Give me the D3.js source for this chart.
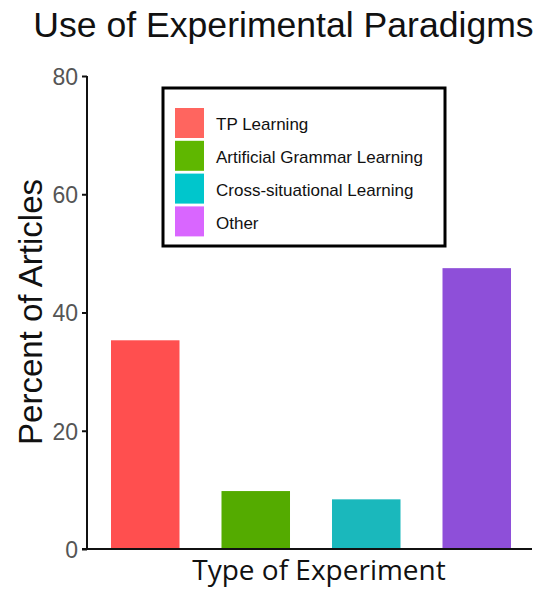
<!DOCTYPE html>
<html lang="en">
<head>
<meta charset="utf-8">
<title>Use of Experimental Paradigms</title>
<script type="text/javascript" src="https://d3js.org/d3.v7.min.js"></script>
<style type="text/css">
    body { margin: 0; background: white; }
    svg { display: block; }
</style>
</head>
<body>
<script type="text/javascript">
// chart values
var categories = ["TP Learning", "Artificial Grammar Learning", "Cross-situational Learning", "Other"];
var percents = [35.3, 9.8, 8.4, 47.5];
var barColors = ["#ff4f4f", "#54ab00", "#1ab8bc", "#8e4fd9"];
var legendColors = ["#ff655f", "#5fb700", "#00c6cc", "#d966ff"];
var yTicks = [0, 20, 40, 60, 80];

var W = 544, H = 591;

var svg = d3.select("body").append("svg")
    .attr("width", W)
    .attr("height", H);

var x = d3.scaleBand()
    .domain(categories)
    .range([90, 532])
    .paddingInner(0.38)
    .paddingOuter(0.19);

var y = d3.scaleLinear()
    .domain([0, 80])
    .range([549, 76]);

// bars
svg.selectAll(".bar")
    .data(categories)
    .enter().append("rect")
    .attr("class", "bar")
    .attr("x", function(d) { return x(d); })
    .attr("width", x.bandwidth())
    .attr("y", function(d, i) { return y(percents[i]); })
    .attr("height", function(d, i) { return y(0) - y(percents[i]); })
    .attr("fill", function(d, i) { return barColors[i]; });

// y axis
var yAxis = svg.append("g")
    .attr("transform", "translate(87,0)")
    .call(d3.axisLeft(y).tickValues(yTicks).tickSize(5).tickPadding(4));
yAxis.select(".domain").attr("stroke", "#111").attr("stroke-width", 2).attr("d", "M0," + y(80) + "V" + y(0));
yAxis.selectAll(".tick line").attr("stroke", "#111").attr("stroke-width", 2);
yAxis.selectAll(".tick text")
    .attr("fill", "#555")
    .attr("font-family", "Liberation Sans, Arial, sans-serif")
    .attr("font-size", "23px")
    .attr("dy", "0.36em");

// x axis line
svg.append("line")
    .attr("x1", 82).attr("x2", 532)
    .attr("y1", y(0)).attr("y2", y(0))
    .attr("stroke", "#111")
    .attr("stroke-width", 2);

// title
svg.append("text")
    .attr("x", 283.5)
    .attr("y", 37)
    .attr("text-anchor", "middle")
    .attr("font-family", "Liberation Sans, Arial, sans-serif")
    .attr("font-size", "35.6px")
    .attr("fill", "#111")
    .text("Use of Experimental Paradigms");

// y label
svg.append("text")
    .attr("transform", "translate(42,312) rotate(-90)")
    .attr("text-anchor", "middle")
    .attr("font-family", "Liberation Sans, Arial, sans-serif")
    .attr("font-size", "33px")
    .attr("fill", "#111")
    .text("Percent of Articles");

// x label
svg.append("text")
    .attr("x", 319)
    .attr("y", 580)
    .attr("text-anchor", "middle")
    .attr("font-family", "Open Sans, sans-serif")
    .attr("font-size", "28px")
    .attr("fill", "#111")
    .text("Type of Experiment");

// legend
var legend = svg.append("g");
legend.append("rect")
    .attr("x", 163).attr("y", 88)
    .attr("width", 282).attr("height", 158)
    .attr("fill", "white")
    .attr("stroke", "#000")
    .attr("stroke-width", 3);

var items = legend.selectAll(".item")
    .data(categories)
    .enter().append("g")
    .attr("class", "item")
    .attr("transform", function(d, i) { return "translate(175," + (108 + i * 32.8) + ")"; });

items.append("rect")
    .attr("width", 29)
    .attr("height", 30)
    .attr("fill", function(d, i) { return legendColors[i]; });

items.append("text")
    .attr("x", 41)
    .attr("y", 16)
    .attr("dy", "0.36em")
    .attr("font-family", "Liberation Sans, Arial, sans-serif")
    .attr("font-size", "17px")
    .attr("fill", "#111")
    .text(function(d) { return d; });
</script>
</body>
</html>
